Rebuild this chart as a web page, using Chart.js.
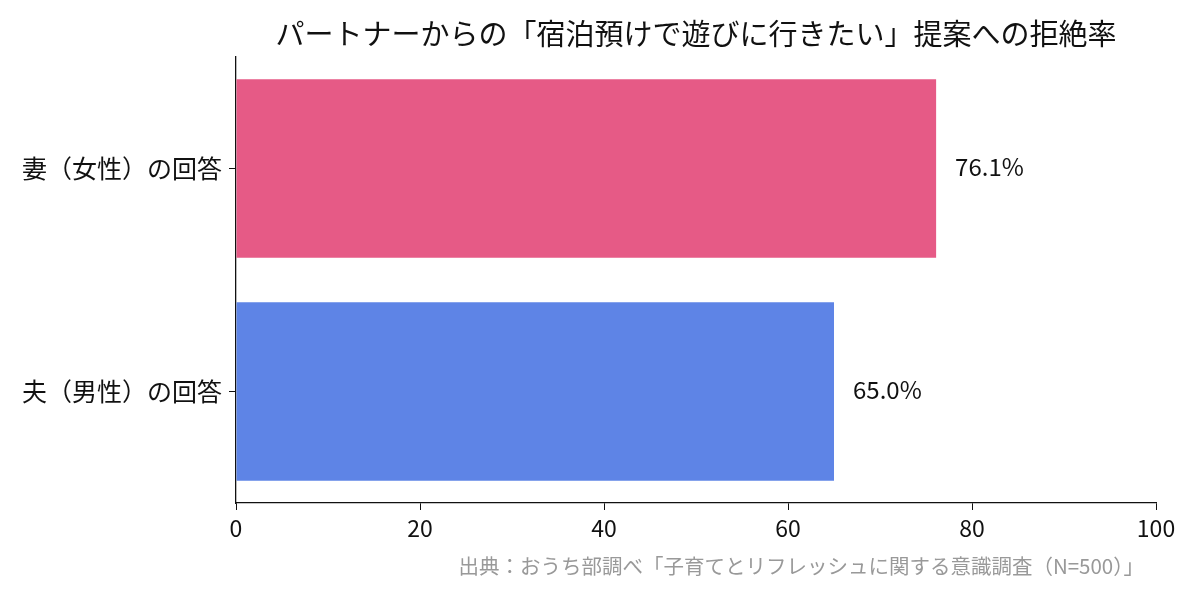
<!DOCTYPE html>
<html>
<head>
<meta charset="utf-8">
<script src="https://cdn.jsdelivr.net/npm/chart.js@4.4.0/dist/chart.umd.min.js"></script>
<style>
  html, body { margin: 0; padding: 0; background: #fff; }
  #wrap { width: 1200px; height: 600px; }
</style>
</head>
<body>
<div id="wrap"><canvas id="myChart"></canvas></div>
<script>
const categories = ['妻（女性）の回答', '夫（男性）の回答'];
const rates = [76.1, 65.0];
const barColors = ['#E65A86', '#5E84E6'];
const xTicks = [0, 20, 40, 60, 80, 100];

const titleText = 'パートナーからの「宿泊預けで遊びに行きたい」提案への拒絶率';
const sourceText = '出典：おうち部調べ「子育てとリフレッシュに関する意識調査（N=500）」';
const jpFont = '"Noto Sans CJK JP", "Noto Sans", sans-serif';

// title, source note and value labels
const textPlugin = {
    id: 'textPlugin',
    afterDatasetsDraw(chart) {
        const ctx = chart.ctx;
        const area = chart.chartArea;
        ctx.save();
        ctx.fillStyle = '#111';
        ctx.font = '29px ' + jpFont;
        ctx.textAlign = 'center';
        ctx.textBaseline = 'middle';
        ctx.fillText(titleText, (area.left + area.right) / 2, 34);

        ctx.fillStyle = '#999';
        ctx.font = '20.5px ' + jpFont;
        ctx.textAlign = 'right';
        ctx.fillText(sourceText, 1144, 566);

        ctx.fillStyle = '#111';
        ctx.font = '24px ' + jpFont;
        ctx.textAlign = 'left';
        const meta = chart.getDatasetMeta(0);
        meta.data.forEach((bar, i) => {
            ctx.fillText(rates[i].toFixed(1) + '%', bar.x + 19, bar.y - 2);
        });
        ctx.restore();
    }
};

const ctx = document.getElementById('myChart').getContext('2d');
new Chart(ctx, {
    type: 'bar',
    data: {
        labels: categories,
        datasets: [{
            data: rates,
            backgroundColor: barColors,
            borderWidth: 0,
            barPercentage: 0.8,
            categoryPercentage: 1.0
        }]
    },
    options: {
        indexAxis: 'y',
        responsive: true,
        maintainAspectRatio: false,
        animation: false,
        layout: { padding: { left: 0, right: 44, top: 57, bottom: 47 } },
        plugins: {
            legend: { display: false },
            title: { display: false },
            tooltip: { enabled: false }
        },
        scales: {
            x: {
                type: 'linear',
                min: 0,
                max: 100,
                afterBuildTicks: (axis) => { axis.ticks = xTicks.map(v => ({ value: v })); },
                afterFit: (axis) => { axis.height = 50; },
                ticks: {
                    color: '#111',
                    font: { family: jpFont, size: 23 },
                    padding: 4
                },
                grid: { drawOnChartArea: false, drawTicks: true, tickLength: 7, tickColor: '#111' },
                border: { display: true, color: '#111', width: 1.3 }
            },
            y: {
                afterFit: (axis) => { axis.width = 236; },
                ticks: {
                    color: '#111',
                    font: { family: jpFont, size: 25 },
                    padding: 7
                },
                grid: { offset: false, drawOnChartArea: false, drawTicks: true, tickLength: 7, tickColor: '#111' },
                border: { display: true, color: '#111', width: 1.3 }
            }
        }
    },
    plugins: [textPlugin]
});
</script>
</body>
</html>
